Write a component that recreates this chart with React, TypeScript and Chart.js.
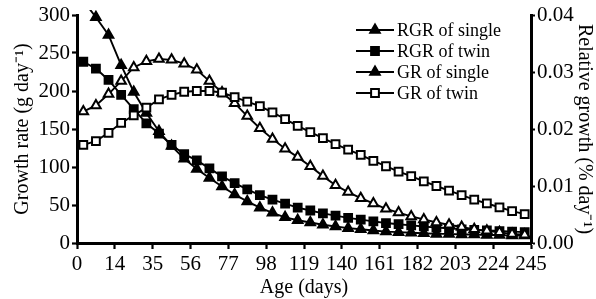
import React, { useEffect, useRef } from 'react';
import { Chart, registerables } from 'chart.js';
import { drawPoint } from 'chart.js/helpers';

Chart.register(...registerables);

// Tick labels on the age axis (as printed on the original figure)
const xTickLabels = ['0', '14', '35', '56', '77', '98', '119', '140', '161', '182', '203', '224', '245'];

// Weekly sampling points (week number, 1..36); each tick interval holds 3 weeks
const weeks = [1, 2, 3, 4, 5, 6, 7, 8, 9, 10, 11, 12, 13, 14, 15, 16, 17, 18, 19, 20, 21, 22, 23, 24, 25, 26, 27, 28, 29, 30, 31, 32, 33, 34, 35, 36];

// Growth rate (g/day) – left axis
const grSingle = [173, 181, 196, 213, 231, 239, 242, 241, 236, 228, 213, 198, 184, 167, 151, 137, 124, 113, 101, 88, 76, 67, 59, 52, 45, 40, 35, 31, 27, 24, 21, 18, 16, 14, 12, 11];
const grTwin = [129, 134, 145, 158, 168, 178, 189, 195, 199, 200, 200, 198, 192, 186, 180, 172, 163, 154, 146, 138, 130, 123, 116, 108, 101, 94, 88, 81, 75, 69, 63, 57, 52, 47, 42, 38];

// Relative growth (%/day) – right axis
const rgrSingle = [0.0425, 0.0396, 0.0365, 0.0312, 0.0265, 0.0228, 0.0196, 0.0170, 0.0148, 0.0130, 0.0114, 0.0099, 0.0085, 0.0073, 0.0062, 0.0053, 0.0045, 0.0040, 0.0036, 0.0032, 0.0029, 0.0026, 0.0024, 0.0022, 0.0020, 0.0019, 0.0018, 0.0017, 0.0016, 0.0016, 0.0015, 0.0015, 0.0014, 0.0014, 0.0013, 0.0013];
const rgrTwin = [0.0318, 0.0306, 0.0286, 0.0260, 0.0235, 0.0210, 0.0192, 0.0172, 0.0156, 0.0145, 0.0131, 0.0117, 0.0105, 0.0094, 0.0084, 0.0076, 0.0069, 0.0062, 0.0057, 0.0052, 0.0048, 0.0044, 0.0041, 0.0038, 0.0035, 0.0033, 0.0031, 0.0029, 0.0027, 0.0026, 0.0024, 0.0023, 0.0022, 0.0021, 0.0020, 0.0019];

const FONT = "'Liberation Serif', 'Times New Roman', serif";

const toPoints = (vals: number[]) => vals.map((v, i) => ({ x: weeks[i] - 0.5, y: v }));

const legendItems = [
  { label: 'RGR of single', style: 'triangle', fill: '#000' },
  { label: 'RGR of twin', style: 'rect', fill: '#000' },
  { label: 'GR of single', style: 'triangle', fill: '#000' },
  { label: 'GR of twin', style: 'rect', fill: '#fff' },
];

const legendPlugin = {
  id: 'lineLegend',
  afterDraw(chart: any) {
    const ctx = chart.ctx;
    ctx.save();
    ctx.font = `18px ${FONT}`;
    ctx.textBaseline = 'middle';
    ctx.textAlign = 'left';
    legendItems.forEach((it, i) => {
      const y = 30 + i * 21;
      ctx.strokeStyle = '#000';
      ctx.lineWidth = 2.2;
      ctx.beginPath();
      ctx.moveTo(356, y);
      ctx.lineTo(394, y);
      ctx.stroke();
      ctx.fillStyle = it.fill;
      ctx.strokeStyle = '#000';
      ctx.lineWidth = 2;
      drawPoint(ctx, { pointStyle: it.style, radius: 5.5, rotation: 0, borderWidth: 2 }, 375, y);
      ctx.fillStyle = '#000';
      ctx.fillText(it.label, 397, y + 1);
    });
    ctx.restore();
  },
};

export default function App() {
  const ref = useRef<HTMLCanvasElement>(null);

  useEffect(() => {
    if (!ref.current) return;
    const common = {
      borderColor: '#000',
      borderWidth: 1.9,
      pointBorderColor: '#000',
      pointBorderWidth: 2,
      tension: 0,
    };
    const chart = new Chart(ref.current, {
      type: 'line',
      data: {
        datasets: [
          {
            ...common,
            label: 'GR of twin',
            data: toPoints(grTwin),
            yAxisID: 'y',
            pointStyle: 'rect',
            pointRadius: 5.5,
            pointBackgroundColor: '#fff',
          },
          {
            ...common,
            label: 'GR of single',
            data: toPoints(grSingle),
            yAxisID: 'y',
            pointStyle: 'triangle',
            pointRadius: 5.5,
            pointBackgroundColor: '#fff',
          },
          {
            ...common,
            label: 'RGR of twin',
            data: toPoints(rgrTwin),
            yAxisID: 'y1',
            pointStyle: 'rect',
            pointRadius: 5.5,
            pointBackgroundColor: '#000',
          },
          {
            ...common,
            label: 'RGR of single',
            data: toPoints(rgrSingle),
            yAxisID: 'y1',
            pointStyle: 'triangle',
            pointRadius: 5.5,
            pointBackgroundColor: '#000',
            clip: { top: 5, left: 0, right: 0, bottom: 0 },
          },
        ],
      },
      options: {
        animation: false,
        responsive: false,
        layout: { padding: { top: 15, left: 0, right: 0, bottom: 0 } },
        plugins: { legend: { display: false }, tooltip: { enabled: false } },
        scales: {
          x: {
            type: 'linear',
            position: 'bottom',
            min: 0,
            max: 36,
            afterFit: (s: any) => { s.height = 56; },
            ticks: {
              stepSize: 3,
              autoSkip: false,
              maxRotation: 0,
              color: '#000',
              padding: 3,
              font: { family: FONT, size: 21 },
              callback: (v: any) => xTickLabels[Math.round(Number(v) / 3)],
            },
            grid: { drawOnChartArea: false, drawTicks: true, tickLength: 6, tickWidth: 2.2, tickColor: '#000' },
            border: { color: '#000', width: 3 },
            title: {
              display: true,
              text: 'Age (days)',
              color: '#000',
              font: { family: FONT, size: 20, lineHeight: 1.1 },
              padding: { top: 0, bottom: 0 },
            },
          },
          y: {
            position: 'left',
            min: 0,
            max: 300,
            afterFit: (s: any) => { s.width = 77; },
            ticks: { stepSize: 50, color: '#000', padding: 2, font: { family: FONT, size: 21 } },
            grid: { drawOnChartArea: false, drawTicks: true, tickLength: 5, tickWidth: 2.2, tickColor: '#000' },
            border: { color: '#000', width: 3 },
            title: {
              display: true,
              text: 'Growth rate (g day⁻¹)',
              color: '#000',
              font: { family: FONT, size: 20, lineHeight: 1.2 },
              padding: { top: 11, bottom: 0 },
            },
          },
          y1: {
            position: 'right',
            min: 0,
            max: 0.04,
            afterFit: (s: any) => { s.width = 65; },
            ticks: {
              stepSize: 0.01,
              color: '#000',
              padding: 2,
              font: { family: FONT, size: 21 },
              callback: (v: any) => Number(v).toFixed(2),
            },
            grid: { drawOnChartArea: false, drawTicks: true, tickLength: 4, tickWidth: 2.2, tickColor: '#000' },
            border: { color: '#000', width: 3 },
            title: {
              display: true,
              text: 'Relative growth (% day⁻¹)',
              color: '#000',
              font: { family: FONT, size: 20, lineHeight: 1.2 },
              padding: { top: 0, bottom: 0 },
            },
          },
        },
      },
      plugins: [legendPlugin],
    });
    return () => chart.destroy();
  }, []);

  return (
    <div style={{ position: 'fixed', left: 0, top: 0, width: 596, height: 299, background: '#fff' }}>
      <canvas ref={ref} width={596} height={299} style={{ width: 596, height: 299, display: 'block' }} />
    </div>
  );
}
